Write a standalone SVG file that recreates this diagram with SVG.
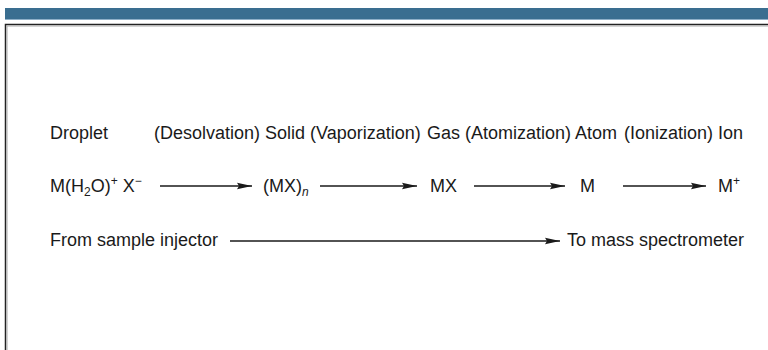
<svg xmlns="http://www.w3.org/2000/svg" width="768" height="350" viewBox="0 0 768 350">
<defs>
<style>
text{font-family:"Liberation Sans",Arial,sans-serif;font-size:18px;fill:#1a1a1a}
.ln{stroke:#1a1a1a;stroke-width:1.3;fill:none}
.sm{font-size:12px}
</style>
<marker id="ah" markerWidth="16" markerHeight="8" refX="15" refY="4" orient="auto" markerUnits="userSpaceOnUse">
<path d="M0,0.8 L15,4 L0,7.2 L2,4 Z" fill="#1a1a1a"/>
</marker>
</defs>
<rect x="0" y="0" width="768" height="350" fill="#fff"/>
<rect x="5" y="8" width="763" height="11" fill="#3a6e90"/>
<line x1="5" y1="19.5" x2="768" y2="19.5" stroke="#8fb0c8" stroke-width="1"/>
<path d="M5.5,350 V24.5 H768" fill="none" stroke="#222" stroke-width="1.5"/>
<path d="M7,350 V26 H768" fill="none" stroke="#aaa" stroke-width="1"/>

<g id="row1">
<text x="50" y="139">Droplet</text>
<text x="154" y="139">(Desolvation)</text>
<text x="265" y="139">Solid</text>
<text x="310" y="139">(Vaporization)</text>
<text x="427" y="139">Gas</text>
<text x="465" y="139">(Atomization)</text>
<text x="575" y="139">Atom</text>
<text x="624" y="139">(Ionization)</text>
<text x="718" y="139">Ion</text>
</g>

<g id="droplet"><text x="50" y="192">M(H<tspan class="sm" dy="4">2</tspan><tspan dy="-4">O)</tspan><tspan class="sm" dy="-7">+</tspan><tspan dy="7"> X</tspan><tspan class="sm" dy="-7">−</tspan></text></g>
<g id="solid"><text x="263" y="192">(MX)<tspan class="sm" dy="4" font-style="italic">n</tspan></text></g>
<g id="gas"><text x="430" y="192">MX</text></g>
<g id="atom"><text x="580" y="192">M</text></g>
<g id="ion"><text x="718" y="192">M<tspan class="sm" dy="-7">+</tspan></text></g>

<g id="source"><text x="50" y="246">From sample injector</text></g>
<g id="dest"><text x="567" y="246">To mass spectrometer</text></g>

<g id="connectors">
<line class="ln" x1="160" y1="186" x2="252" y2="186" marker-end="url(#ah)"/>
<line class="ln" x1="320" y1="186" x2="417" y2="186" marker-end="url(#ah)"/>
<line class="ln" x1="474" y1="186" x2="565" y2="186" marker-end="url(#ah)"/>
<line class="ln" x1="623" y1="186" x2="706" y2="186" marker-end="url(#ah)"/>
<line class="ln" x1="230" y1="241" x2="560" y2="241" marker-end="url(#ah)"/>
</g>
</svg>
